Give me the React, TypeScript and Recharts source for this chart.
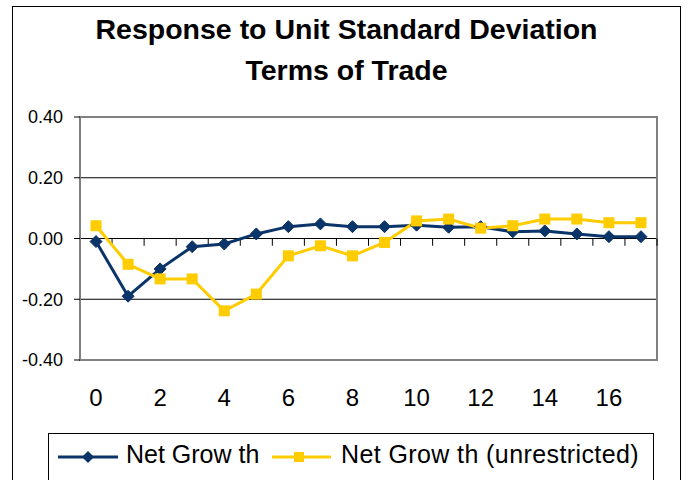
import React from 'react';
import {
  LineChart,
  Line,
  XAxis,
  YAxis,
  CartesianGrid,
  ReferenceArea,
  ReferenceLine,
} from 'recharts';

// periods after the shock
const periods = [0, 1, 2, 3, 4, 5, 6, 7, 8, 9, 10, 11, 12, 13, 14, 15, 16, 17];

// Net Growth response
const netGrowth = [
  -0.01, -0.19, -0.1, -0.027, -0.018, 0.015, 0.039, 0.048, 0.039, 0.039, 0.044, 0.037, 0.039,
  0.022, 0.025, 0.015, 0.006, 0.006,
];

// Net Growth (unrestricted) response
const netGrowthUnrestricted = [
  0.042, -0.085, -0.133, -0.133, -0.238, -0.183, -0.057, -0.024, -0.057, -0.013, 0.058, 0.064,
  0.034, 0.042, 0.064, 0.064, 0.052, 0.052,
];

const yTicks = [-0.4, -0.2, 0, 0.2, 0.4];
const xTicks = [0, 2, 4, 6, 8, 10, 12, 14, 16];

const BLUE = '#0B3468';
const YELLOW = '#FFCC00';
const FONT = '"Liberation Sans", Arial, sans-serif';

const data = periods.map((p, i) => ({
  period: p,
  net: netGrowth[i],
  unrestricted: netGrowthUnrestricted[i],
}));

// tick marks sit on the zero line, between the periods
const boundaryTicks = periods.map((p) => p + 0.5);

const Diamond = (props: any) => {
  const { cx, cy } = props;
  if (cx == null || cy == null) return null;
  const r = 6;
  return (
    <polygon
      points={`${cx},${cy - r} ${cx + r},${cy} ${cx},${cy + r} ${cx - r},${cy}`}
      fill={BLUE}
      stroke={BLUE}
    />
  );
};

const Square = (props: any) => {
  const { cx, cy } = props;
  if (cx == null || cy == null) return null;
  const s = 11;
  return <rect x={cx - s / 2} y={cy - s / 2} width={s} height={s} fill={YELLOW} />;
};

function LegendBox() {
  return (
    <div
      style={{
        position: 'absolute',
        left: 48,
        top: 433,
        width: 604,
        height: 70,
        border: '1px solid #000',
        background: '#fff',
        fontFamily: FONT,
        fontSize: 25,
      }}
    >
      <svg width={62} height={12} style={{ position: 'absolute', left: 8, top: 17 }}>
        <line x1={1} y1={6} x2={61} y2={6} stroke={BLUE} strokeWidth={3} />
        <polygon points="31,0 37,6 31,12 25,6" fill={BLUE} />
      </svg>
      <span style={{ position: 'absolute', left: 77, top: 6, whiteSpace: 'pre' }}>Net Grow th</span>
      <svg width={62} height={12} style={{ position: 'absolute', left: 222, top: 17 }}>
        <line x1={1} y1={6} x2={60} y2={6} stroke={YELLOW} strokeWidth={3} />
        <rect x={23} y={1} width={10} height={10} fill={YELLOW} />
      </svg>
      <span
        style={{ position: 'absolute', left: 292, top: 6, whiteSpace: 'pre', letterSpacing: 0.4 }}
      >
        Net Grow th (unrestricted)
      </span>
    </div>
  );
}

export default function App() {
  return (
    <div
      style={{
        position: 'absolute',
        left: 0,
        top: 0,
        width: 688,
        height: 480,
        overflow: 'hidden',
        background: '#fff',
        fontFamily: FONT,
      }}
    >
      {/* outer frame */}
      <div
        style={{
          position: 'absolute',
          left: 12,
          top: 6,
          width: 667,
          height: 500,
          border: '1px solid #000',
        }}
      />
      <div
        style={{
          position: 'absolute',
          left: 13,
          top: 9,
          width: 667,
          textAlign: 'center',
          fontSize: 28.5,
          fontWeight: 'bold',
          lineHeight: '41px',
        }}
      >
        Response to Unit Standard Deviation
        <br />
        Terms of Trade
      </div>
      <div style={{ position: 'absolute', left: 0, top: 0 }}>
        <LineChart
          width={688}
          height={480}
          data={data}
          margin={{ top: 117, right: 31, bottom: 90, left: 20 }}
        >
          <CartesianGrid vertical={false} stroke="#000" strokeWidth={1} />
          <XAxis
            dataKey="period"
            type="number"
            domain={[-0.5, 17.5]}
            ticks={xTicks}
            height={30}
            axisLine={false}
            tickLine={false}
            tickSize={0}
            tickMargin={29}
            tick={{ fill: '#000', fontSize: 24, fontFamily: FONT }}
            interval={0}
          />
          <YAxis
            domain={[-0.4, 0.4]}
            ticks={yTicks}
            width={60}
            axisLine={false}
            tickLine={{ stroke: '#000' }}
            tickSize={6}
            tickMargin={11}
            tickFormatter={(v: number) => v.toFixed(2)}
            tick={{ fill: '#000', fontSize: 18, fontFamily: FONT }}
          />
          <ReferenceArea
            x1={-0.5}
            x2={17.5}
            y1={-0.4}
            y2={0.4}
            fill="none"
            fillOpacity={0}
            stroke="#808080"
            strokeWidth={2}
          />
          {boundaryTicks.map((b) => (
            <ReferenceLine
              key={b}
              segment={[
                { x: b, y: 0 },
                { x: b, y: -0.024 },
              ]}
              stroke="#000"
              strokeWidth={1}
            />
          ))}
          <Line
            dataKey="net"
            stroke={BLUE}
            strokeWidth={3}
            dot={<Diamond />}
            activeDot={false}
            isAnimationActive={false}
          />
          <Line
            dataKey="unrestricted"
            stroke={YELLOW}
            strokeWidth={3}
            dot={<Square />}
            activeDot={false}
            isAnimationActive={false}
          />
        </LineChart>
      </div>
      <LegendBox />
    </div>
  );
}
